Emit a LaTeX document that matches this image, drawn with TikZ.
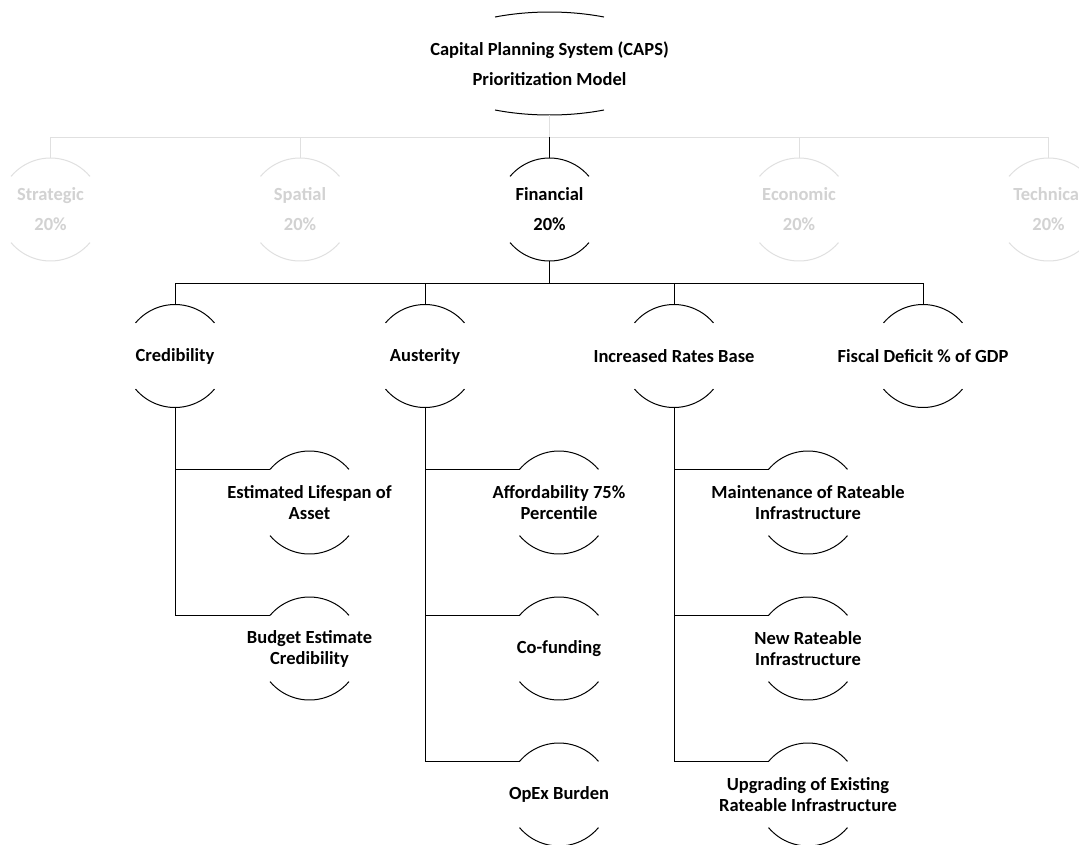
\documentclass[tikz,border=0pt]{standalone}
\usepackage{fontspec}
\setmainfont{Carlito}
\usetikzlibrary{calc}
\definecolor{faint}{RGB}{224,224,224}
\definecolor{fainttext}{RGB}{210,210,210}
\tikzset{
  lbl/.style={font=\bfseries\fontsize{18.5}{21}\selectfont, align=center, inner sep=0pt, text=black},
  lblwide/.style={lbl, font=\bfseries\fontsize{18.5}{30}\selectfont},
  lblfaint/.style={lblwide, text=fainttext},
  link/.style={line width=1pt, draw=black},
  faintlink/.style={line width=1pt, draw=faint},
  arcline/.style={line width=1pt, draw=black},
  faintarc/.style={line width=1pt, draw=faint},
}
% name, x, y, text style, arc style, text
\newcommand\arcnode[6]{%
  \coordinate (#1c) at (#2,#3);
  \node[#4] (#1) at (#1c) {#6};
  \coordinate (#1-t) at ($(#1c)+(0pt,51.5pt)$);
  \coordinate (#1-b) at ($(#1c)+(0pt,-51.5pt)$);
  \coordinate (#1-l) at ($(#1c)+(140:51.5pt)$);
  \draw[#5] (#1-l) arc[start angle=140, end angle=40, radius=51.5pt];
  \draw[#5] ($(#1c)+(220:51.5pt)$) arc[start angle=220, end angle=320, radius=51.5pt];
}
\begin{document}
\begin{tikzpicture}[x=1pt, y=-1pt]
\fill[white] (0,0) rectangle (1079,844);
\useasboundingbox (0,0) rectangle (1079,844);
\clip (0,0) rectangle (1079,844);

% top node
\coordinate (topc) at (549.5,63.5);
\node[lblwide] (top) at (topc) {Capital Planning System (CAPS)\\Prioritization Model};
\coordinate (top-b) at ($(topc)+(0pt,-51.5pt)$);
\draw[arcline] ($(topc)+(64.5:126.6pt and 51.5pt)$) arc[start angle=64.5, end angle=115.5, x radius=126.6pt, y radius=51.5pt];
\draw[arcline] ($(topc)+(244.5:126.6pt and 51.5pt)$) arc[start angle=244.5, end angle=295.5, x radius=126.6pt, y radius=51.5pt];

% level 1
\arcnode{strat}{50.5}{209.5}{lblfaint}{faintarc}{Strategic\\20\%}
\arcnode{spat}{300}{209.5}{lblfaint}{faintarc}{Spatial\\20\%}
\arcnode{fin}{549.5}{209.5}{lblwide}{arcline}{Financial\\20\%}
\arcnode{econ}{799}{209.5}{lblfaint}{faintarc}{Economic\\20\%}
\arcnode{tech}{1048.5}{209.5}{lblfaint}{faintarc}{Technical\\20\%}

% level 2
\arcnode{cred}{175}{356}{lbl}{arcline}{Credibility}
\arcnode{aust}{425}{356}{lbl}{arcline}{Austerity}
\arcnode{inc}{674}{356}{lbl}{arcline}{Increased Rates Base}
\arcnode{fisc}{923}{356}{lbl}{arcline}{Fiscal Deficit \% of GDP}

% level 3
\arcnode{est}{309.5}{502.5}{lbl}{arcline}{Estimated Lifespan of\\Asset}
\arcnode{bud}{309.5}{648.5}{lbl}{arcline}{Budget Estimate\\Credibility}
\arcnode{aff}{559}{502.5}{lbl}{arcline}{Affordability 75\%\\Percentile}
\arcnode{cof}{559}{648.5}{lbl}{arcline}{Co-funding}
\arcnode{opex}{559}{794.5}{lbl}{arcline}{OpEx Burden}
\arcnode{mnt}{808}{502.5}{lbl}{arcline}{Maintenance of Rateable\\Infrastructure}
\arcnode{new}{808}{648.5}{lbl}{arcline}{New Rateable\\Infrastructure}
\arcnode{upg}{808}{794.5}{lbl}{arcline}{Upgrading of Existing\\Rateable Infrastructure}

% connectors
\coordinate (h1) at (549.5,137);
\coordinate (h2) at (549.5,283);
\draw[faintlink] (top-b) -- (h1);
\foreach \n in {strat,spat,econ,tech} \draw[faintlink] (h1) -| (\n-t);
\draw[link] (h1) -- (fin-t);
\draw[link] (fin-b) -- (h2);
\foreach \n in {cred,aust,inc,fisc} \draw[link] (h2) -| (\n-t);
\draw[link] (cred-b) |- (est-l);
\draw[link] (cred-b) |- (bud-l);
\draw[link] (aust-b) |- (aff-l);
\draw[link] (aust-b) |- (cof-l);
\draw[link] (aust-b) |- (opex-l);
\draw[link] (inc-b) |- (mnt-l);
\draw[link] (inc-b) |- (new-l);
\draw[link] (inc-b) |- (upg-l);
\end{tikzpicture}
\end{document}
